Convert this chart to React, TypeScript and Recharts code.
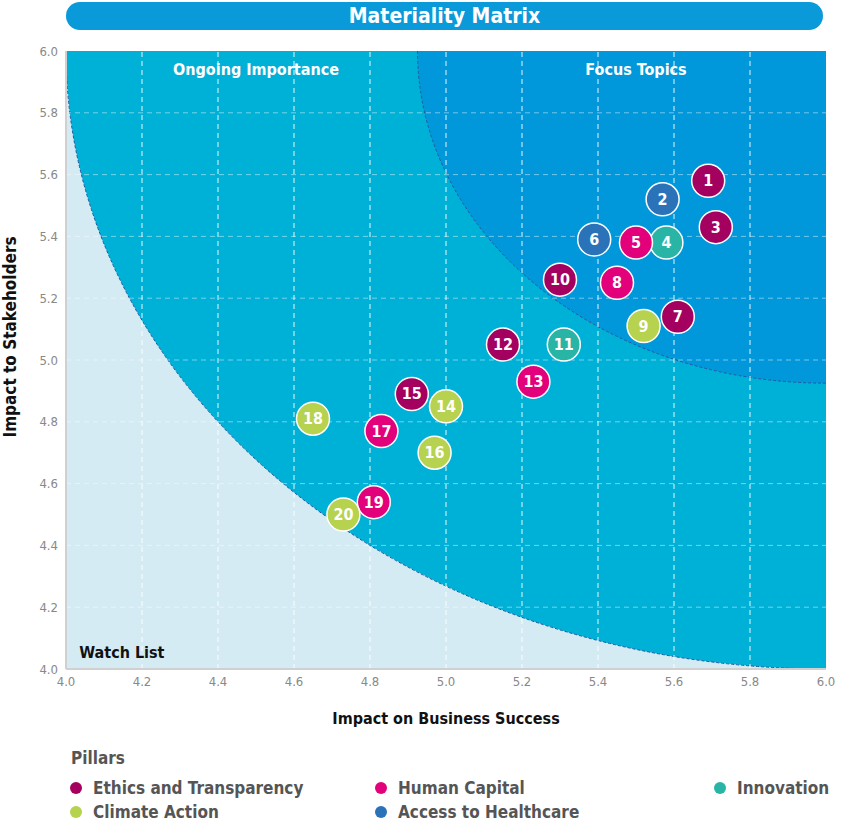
import {
  ScatterChart,
  Scatter,
  XAxis,
  YAxis,
  ReferenceArea,
  ReferenceLine,
  ReferenceDot,
} from 'recharts'

const FONT = "'Liberation Sans Narrow', 'DejaVu Sans Condensed', Roboto, sans-serif"

// topics: impact on business (x) vs impact to stakeholders (y)
const topicIds = [1, 2, 3, 4, 5, 6, 7, 8, 9, 10, 11, 12, 13, 14, 15, 16, 17, 18, 19, 20]
const businessImpact = [
  5.69, 5.57, 5.71, 5.58, 5.5, 5.39, 5.61, 5.45, 5.52, 5.3,
  5.31, 5.15, 5.23, 5.0, 4.91, 4.97, 4.83, 4.65, 4.81, 4.73,
]
const stakeholderImpact = [
  5.58, 5.52, 5.43, 5.38, 5.38, 5.39, 5.14, 5.25, 5.11, 5.26,
  5.05, 5.05, 4.93, 4.85, 4.89, 4.7, 4.77, 4.81, 4.54, 4.5,
]
const topicPillar = [
  'ethics', 'health', 'ethics', 'innovation', 'human', 'health', 'ethics', 'human', 'climate', 'ethics',
  'innovation', 'ethics', 'human', 'climate', 'ethics', 'climate', 'human', 'climate', 'human', 'climate',
]

const pillarKeys = ['ethics', 'human', 'innovation', 'climate', 'health']
const pillarNames = ['Ethics and Transparency', 'Human Capital', 'Innovation', 'Climate Action', 'Access to Healthcare']
const pillarColors = ['#a3005f', '#e3007b', '#29b5a6', '#b6d24f', '#2a73b9']

const ticks = [4.0, 4.2, 4.4, 4.6, 4.8, 5.0, 5.2, 5.4, 5.6, 5.8, 6.0]
const focusStart = 4.925

const points = topicIds.map((id, i) => ({
  id,
  x: businessImpact[i],
  y: stakeholderImpact[i],
  color: pillarColors[pillarKeys.indexOf(topicPillar[i])],
}))

// quarter ellipse anchored at the top-right corner of the reference area
function QuarterShape(props: any) {
  const { x, y, width, height, fill } = props
  const d = `M ${x + width} ${y} L ${x} ${y} A ${width} ${height} 0 0 0 ${x + width} ${y + height} Z`
  return (
    <g>
      <path d={d} fill={fill} />
      <path
        d={`M ${x} ${y} A ${width} ${height} 0 0 0 ${x + width} ${y + height}`}
        fill='none'
        stroke='#23599f'
        strokeWidth={1}
        strokeDasharray='3 2'
      />
    </g>
  )
}

function TopicDot(props: any) {
  const { cx, cy, payload } = props
  return (
    <g>
      <circle cx={cx} cy={cy} r={16.5} fill={payload.color} stroke='#ffffff' strokeWidth={1.5} />
      <text
        x={cx}
        y={cy + 5.5}
        textAnchor='middle'
        fill='#ffffff'
        fontSize={16}
        fontWeight={700}
        fontFamily={FONT}
      >
        {payload.id}
      </text>
    </g>
  )
}

function YTitle() {
  return (
    <text
      x={16}
      y={337}
      transform='rotate(-90 16 337)'
      textAnchor='middle'
      fill='#111'
      fontSize={17}
      fontWeight={700}
      fontFamily={FONT}
    >
      Impact to Stakeholders
    </text>
  )
}

export default function App() {
  const tickStyle = { fill: '#888', fontSize: 13, fontFamily: FONT }
  return (
    <div style={{ position: 'absolute', left: 0, top: 0, width: 850, height: 826, background: '#fff', fontFamily: FONT }}>
      <div
        style={{
          position: 'absolute',
          left: 66,
          top: 2,
          width: 757,
          height: 28,
          borderRadius: 14,
          background: '#0a9ad9',
          color: '#fff',
          fontSize: 21,
          fontWeight: 700,
          textAlign: 'center',
          lineHeight: '28px',
        }}
      >
        Materiality Matrix
      </div>

      <div style={{ position: 'absolute', left: 0, top: 0 }}>
        <ScatterChart width={850} height={740} margin={{ top: 51, right: 24, bottom: 11, left: 0 }}>
          <XAxis
            type='number'
            dataKey='x'
            domain={[4, 6]}
            ticks={ticks}
            tickFormatter={(v) => v.toFixed(1)}
            tick={tickStyle}
            tickLine={false}
            axisLine={{ stroke: '#d0d0d0', strokeWidth: 2 }}
            height={60}
            label={{
              value: 'Impact on Business Success',
              position: 'insideBottom',
              offset: 5,
              fill: '#111',
              fontSize: 16,
              fontWeight: 700,
              fontFamily: FONT,
            }}
          />
          <YAxis
            type='number'
            dataKey='y'
            domain={[4, 6]}
            ticks={ticks}
            tickFormatter={(v) => v.toFixed(1)}
            tick={tickStyle}
            tickLine={false}
            axisLine={{ stroke: '#d0d0d0', strokeWidth: 2 }}
            width={66}
            label={{ content: () => <YTitle /> }}
          />
          <ReferenceArea x1={4} x2={6} y1={4} y2={6} fill='#d4ebf4' fillOpacity={1} stroke='none' />
          <ReferenceArea x1={4} x2={6} y1={4} y2={6} fill='#00b1d7' fillOpacity={1} shape={QuarterShape} />
          <ReferenceArea x1={focusStart} x2={6} y1={focusStart} y2={6} fill='#0098da' fillOpacity={1} shape={QuarterShape} />
          {ticks.slice(1, -1).map((t) => (
            <ReferenceLine key={'v' + t} x={t} stroke='#ffffff' strokeOpacity={0.9} strokeDasharray='5 4' />
          ))}
          {ticks.slice(1, -1).map((t) => (
            <ReferenceLine key={'h' + t} y={t} stroke='#ffffff' strokeOpacity={0.45} strokeDasharray='5 4' />
          ))}
          <ReferenceDot
            x={4.5}
            y={5.94}
            r={0}
            label={{ value: 'Ongoing Importance', position: 'center', fill: '#fff', fontSize: 16, fontWeight: 700, fontFamily: FONT }}
          />
          <ReferenceDot
            x={5.5}
            y={5.94}
            r={0}
            label={{ value: 'Focus Topics', position: 'center', fill: '#fff', fontSize: 16, fontWeight: 700, fontFamily: FONT }}
          />
          <ReferenceDot
            x={4.147}
            y={4.055}
            r={0}
            label={{ value: 'Watch List', position: 'center', fill: '#111', fontSize: 16, fontWeight: 700, fontFamily: FONT }}
          />
          <Scatter data={points} shape={TopicDot} isAnimationActive={false} />
        </ScatterChart>
      </div>

      <div style={{ position: 'absolute', left: 71, top: 748, fontSize: 17, fontWeight: 700, color: '#555' }}>Pillars</div>
      {pillarNames.map((name, i) => {
        const col = i < 3 ? i : i - 3
        const row = i < 3 ? 0 : 1
        const left = [70, 375, 714][col]
        return (
          <div
            key={name}
            style={{
              position: 'absolute',
              left,
              top: 777 + row * 24,
              display: 'flex',
              alignItems: 'center',
              fontSize: 17,
              fontWeight: 700,
              color: '#555',
              lineHeight: '22px',
            }}
          >
            <span
              style={{ width: 12, height: 12, borderRadius: 6, background: pillarColors[i], marginRight: 11, display: 'inline-block' }}
            />
            {name}
          </div>
        )
      })}
    </div>
  )
}
